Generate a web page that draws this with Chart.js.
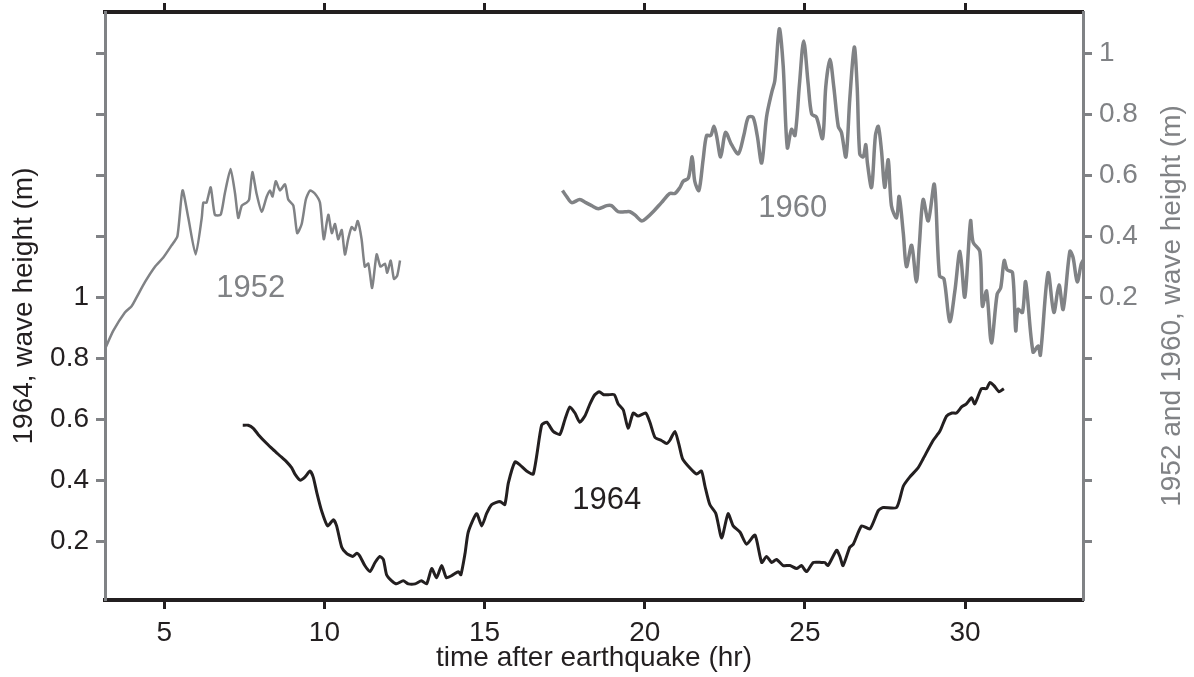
<!DOCTYPE html>
<html>
<head>
<meta charset="utf-8">
<title>tsunami wave height</title>
<script src="https://cdn.jsdelivr.net/npm/chart.js@4.4.1/dist/chart.umd.min.js"></script>
<style>
  html, body { margin: 0; padding: 0; background: #fff; }
  #wrap { width: 1194px; height: 677px; }
</style>
</head>
<body>
<div id="wrap"><canvas id="waveChart"></canvas></div>
<script>
// ===== データ =====
// 1952（右軸）
const hours1952 = [3.15, 3.41, 3.77, 3.98, 4.14, 4.40, 4.71, 4.97, 5.23, 5.41, 5.57, 5.75, 5.98, 6.17, 6.22, 6.32, 6.45, 6.58, 6.76, 6.89, 7.07, 7.21, 7.31, 7.42, 7.57, 7.65, 7.75, 7.88, 8.04, 8.20, 8.30, 8.38, 8.48, 8.61, 8.77, 8.87, 9.03, 9.15, 9.29, 9.42, 9.55, 9.70, 9.86, 9.98, 10.12, 10.23, 10.33, 10.43, 10.54, 10.64, 10.74, 10.85, 10.95, 11.04, 11.16, 11.26, 11.37, 11.49, 11.63, 11.75, 11.89, 11.96, 12.07, 12.17, 12.27, 12.36];
const height1952 = [0.03, 0.09, 0.15, 0.17, 0.20, 0.25, 0.30, 0.33, 0.37, 0.40, 0.55, 0.46, 0.34, 0.46, 0.51, 0.51, 0.56, 0.47, 0.47, 0.54, 0.62, 0.54, 0.46, 0.50, 0.51, 0.52, 0.61, 0.54, 0.48, 0.53, 0.55, 0.53, 0.58, 0.55, 0.57, 0.52, 0.50, 0.41, 0.44, 0.52, 0.55, 0.54, 0.51, 0.39, 0.47, 0.41, 0.44, 0.39, 0.42, 0.34, 0.39, 0.43, 0.42, 0.45, 0.39, 0.30, 0.31, 0.23, 0.34, 0.30, 0.31, 0.28, 0.32, 0.26, 0.27, 0.32];

// 1960（右軸）
const hours1960 = [17.43, 17.56, 17.72, 17.97, 18.16, 18.34, 18.55, 18.81, 18.96, 19.17, 19.38, 19.54, 19.69, 19.90, 20.06, 20.26, 20.52, 20.78, 20.94, 21.10, 21.20, 21.36, 21.48, 21.56, 21.69, 21.82, 21.93, 22.06, 22.16, 22.24, 22.37, 22.52, 22.71, 22.92, 23.09, 23.23, 23.38, 23.51, 23.65, 23.80, 23.96, 24.06, 24.20, 24.32, 24.45, 24.58, 24.69, 24.83, 24.96, 25.10, 25.21, 25.36, 25.55, 25.65, 25.78, 25.90, 26.04, 26.14, 26.28, 26.40, 26.54, 26.63, 26.71, 26.82, 26.90, 26.95, 27.08, 27.20, 27.29, 27.39, 27.49, 27.60, 27.70, 27.86, 27.94, 28.07, 28.17, 28.33, 28.48, 28.57, 28.69, 28.85, 29.04, 29.20, 29.34, 29.52, 29.68, 29.84, 29.99, 30.17, 30.25, 30.46, 30.54, 30.67, 30.82, 31.00, 31.11, 31.22, 31.31, 31.48, 31.58, 31.65, 31.79, 31.89, 32.12, 32.28, 32.35, 32.59, 32.77, 32.93, 33.06, 33.27, 33.37, 33.50, 33.63, 33.74];
const height1960 = [0.55, 0.53, 0.51, 0.52, 0.51, 0.50, 0.49, 0.50, 0.50, 0.48, 0.48, 0.48, 0.47, 0.45, 0.46, 0.48, 0.51, 0.54, 0.54, 0.56, 0.58, 0.59, 0.66, 0.58, 0.55, 0.65, 0.73, 0.73, 0.76, 0.73, 0.66, 0.74, 0.70, 0.67, 0.73, 0.79, 0.79, 0.73, 0.64, 0.79, 0.87, 0.91, 1.08, 0.96, 0.69, 0.75, 0.73, 0.90, 1.04, 0.90, 0.80, 0.79, 0.72, 0.89, 0.98, 0.89, 0.76, 0.74, 0.66, 0.85, 1.02, 0.89, 0.67, 0.66, 0.70, 0.64, 0.56, 0.73, 0.76, 0.68, 0.56, 0.65, 0.50, 0.46, 0.53, 0.41, 0.30, 0.37, 0.25, 0.37, 0.52, 0.45, 0.57, 0.27, 0.26, 0.12, 0.22, 0.35, 0.20, 0.45, 0.38, 0.35, 0.17, 0.22, 0.05, 0.21, 0.23, 0.32, 0.29, 0.28, 0.09, 0.16, 0.15, 0.25, 0.02, 0.04, 0.01, 0.28, 0.15, 0.24, 0.16, 0.35, 0.33, 0.25, 0.31, 0.33];

// 1964（左軸）
const hours1964 = [7.45, 7.62, 7.78, 7.93, 8.20, 8.40, 8.61, 8.82, 8.98, 9.08, 9.24, 9.39, 9.55, 9.65, 9.76, 9.91, 10.10, 10.28, 10.38, 10.54, 10.69, 10.88, 11.01, 11.11, 11.26, 11.42, 11.58, 11.73, 11.84, 11.94, 12.10, 12.25, 12.46, 12.62, 12.83, 13.03, 13.19, 13.35, 13.50, 13.66, 13.81, 14.02, 14.18, 14.26, 14.39, 14.49, 14.75, 14.91, 15.06, 15.22, 15.48, 15.63, 15.74, 15.95, 16.10, 16.31, 16.52, 16.78, 16.94, 17.14, 17.35, 17.51, 17.66, 17.82, 17.97, 18.13, 18.29, 18.44, 18.58, 18.72, 18.86, 19.05, 19.17, 19.33, 19.48, 19.64, 19.79, 20.03, 20.16, 20.32, 20.52, 20.68, 20.78, 20.94, 21.06, 21.18, 21.41, 21.62, 21.77, 21.88, 22.03, 22.22, 22.40, 22.60, 22.76, 22.97, 23.18, 23.44, 23.65, 23.80, 23.96, 24.11, 24.32, 24.53, 24.74, 24.89, 25.05, 25.26, 25.52, 25.62, 25.72, 25.99, 26.09, 26.19, 26.40, 26.51, 26.77, 27.03, 27.29, 27.44, 27.86, 28.07, 28.27, 28.53, 28.69, 29.00, 29.21, 29.42, 29.59, 29.73, 29.89, 30.04, 30.20, 30.30, 30.51, 30.67, 30.77, 30.90, 31.06, 31.21];
const height1964 = [0.58, 0.58, 0.57, 0.55, 0.52, 0.50, 0.48, 0.46, 0.44, 0.42, 0.40, 0.41, 0.43, 0.41, 0.36, 0.30, 0.25, 0.27, 0.25, 0.18, 0.16, 0.15, 0.16, 0.15, 0.12, 0.10, 0.13, 0.15, 0.14, 0.09, 0.07, 0.06, 0.07, 0.06, 0.06, 0.07, 0.06, 0.11, 0.08, 0.12, 0.08, 0.09, 0.10, 0.09, 0.16, 0.23, 0.29, 0.25, 0.29, 0.32, 0.33, 0.32, 0.39, 0.46, 0.45, 0.43, 0.42, 0.58, 0.59, 0.56, 0.55, 0.60, 0.64, 0.62, 0.59, 0.61, 0.65, 0.68, 0.69, 0.68, 0.68, 0.68, 0.65, 0.63, 0.57, 0.62, 0.61, 0.62, 0.59, 0.54, 0.53, 0.52, 0.53, 0.56, 0.52, 0.47, 0.44, 0.42, 0.43, 0.38, 0.32, 0.29, 0.21, 0.29, 0.25, 0.23, 0.19, 0.22, 0.13, 0.15, 0.13, 0.14, 0.12, 0.12, 0.11, 0.12, 0.10, 0.13, 0.13, 0.13, 0.12, 0.17, 0.15, 0.12, 0.18, 0.19, 0.25, 0.24, 0.30, 0.31, 0.31, 0.38, 0.41, 0.44, 0.47, 0.53, 0.56, 0.61, 0.62, 0.62, 0.64, 0.65, 0.67, 0.65, 0.70, 0.70, 0.72, 0.71, 0.69, 0.70];

// 目盛り
const xTickValues = [5, 10, 15, 20, 25, 30];
const leftTickValues = [0.2, 0.4, 0.6, 0.8, 1.0, 1.2, 1.4, 1.6, 1.8];
const leftTickLabels = ['0.2', '0.4', '0.6', '0.8', '1', '', '', '', ''];
const rightTickValues = [-0.6, -0.4, -0.2, 0, 0.2, 0.4, 0.6, 0.8, 1.0];
const rightTickLabels = ['', '', '', '', '0.2', '0.4', '0.6', '0.8', '1'];

// 系列ラベル（データ座標）
const tagTexts = ['1952', '1960', '1964'];
const tagHours = [7.70, 24.62, 18.81];
const tagHeights = [0.23, 0.49, 0.335];
const tagAxes = ['yRight', 'yRight', 'y'];

// ===== 見た目 =====
const BLACK = '#231f20';
const GRAY = '#808285';
const FONT = '"Liberation Sans", Arial, Helvetica, sans-serif';
const tickFont = { family: FONT, size: 28 };

function toPoints(xs, ys) {
    let pts = [];
    for (let i = 0; i < xs.length; i++) {
        pts.push({ x: xs[i], y: ys[i] });
    }
    return pts;
}

// 軸の大きさを固定（端のラベル用の余白は使わない）
function fixSize(w, h) {
    return function(s) {
        if (w !== null) s.width = w;
        if (h !== null) s.height = h;
        s.paddingTop = 0;
        s.paddingBottom = 0;
        s.paddingLeft = 0;
        s.paddingRight = 0;
    };
}

// 軸タイトルと系列ラベルを描く
const textPlugin = {
    id: 'textPlugin',
    afterDraw(chart) {
        const ctx = chart.ctx;
        const area = chart.chartArea;
        const midY = (area.top + area.bottom) / 2;
        ctx.save();
        ctx.font = '28px ' + FONT;
        ctx.textAlign = 'center';

        // 下の軸タイトル
        ctx.fillStyle = BLACK;
        ctx.textBaseline = 'alphabetic';
        ctx.fillText('time after earthquake (hr)', (area.left + area.right) / 2, 666);

        // 左の軸タイトル
        ctx.textBaseline = 'middle';
        ctx.save();
        ctx.translate(24, midY);
        ctx.rotate(-Math.PI / 2);
        ctx.fillText('1964, wave height (m)', 0, 0);
        ctx.restore();

        // 右の軸タイトル（下から上へ）
        ctx.fillStyle = GRAY;
        ctx.save();
        ctx.translate(1172, midY);
        ctx.rotate(-Math.PI / 2);
        ctx.fillText('1952 and 1960, wave height (m)', 0, 0);
        ctx.restore();

        // 系列ラベル
        ctx.font = '31px ' + FONT;
        for (let i = 0; i < tagTexts.length; i++) {
            const px = chart.scales.x.getPixelForValue(tagHours[i]);
            const py = chart.scales[tagAxes[i]].getPixelForValue(tagHeights[i]);
            ctx.fillStyle = tagAxes[i] === 'y' ? BLACK : GRAY;
            ctx.fillText(tagTexts[i], px, py);
        }
        ctx.restore();
    }
};

const xRange = { min: 3.15, max: 33.68 };

new Chart(document.getElementById('waveChart'), {
    type: 'line',
    data: {
        datasets: [
            {
                label: '1952',
                data: toPoints(hours1952, height1952),
                yAxisID: 'yRight',
                borderColor: GRAY,
                borderWidth: 2.5,
                tension: 0.2
            },
            {
                label: '1960',
                data: toPoints(hours1960, height1960),
                yAxisID: 'yRight',
                borderColor: GRAY,
                borderWidth: 3.5,
                tension: 0.3
            },
            {
                label: '1964',
                data: toPoints(hours1964, height1964),
                yAxisID: 'y',
                borderColor: BLACK,
                borderWidth: 3,
                tension: 0.2
            }
        ]
    },
    options: {
        responsive: true,
        maintainAspectRatio: false,
        animation: false,
        layout: { padding: 0 },
        elements: { point: { radius: 0 } },
        plugins: {
            legend: { display: false },
            tooltip: { enabled: false }
        },
        scales: {
            x: {
                type: 'linear',
                position: 'bottom',
                min: xRange.min,
                max: xRange.max,
                afterBuildTicks: s => { s.ticks = xTickValues.map(v => ({ value: v })); },
                afterFit: fixSize(null, 77),
                grid: { drawOnChartArea: false, tickLength: 9, tickWidth: 3, tickColor: BLACK },
                border: { display: true, color: BLACK, width: 4 },
                ticks: { color: BLACK, font: tickFont, padding: 7, maxRotation: 0, autoSkip: false, callback: v => String(v) }
            },
            xTop: {
                type: 'linear',
                position: 'top',
                min: xRange.min,
                max: xRange.max,
                afterBuildTicks: s => { s.ticks = xTickValues.map(v => ({ value: v })); },
                afterFit: fixSize(null, 12),
                grid: { drawOnChartArea: false, tickLength: 9, tickWidth: 3, tickColor: BLACK },
                border: { display: true, color: BLACK, width: 4 },
                ticks: { display: false }
            },
            y: {
                type: 'linear',
                position: 'left',
                min: 0.007,
                max: 1.935,
                afterBuildTicks: s => { s.ticks = leftTickValues.map(v => ({ value: v })); },
                afterFit: fixSize(105, null),
                grid: { drawOnChartArea: false, tickLength: 9, tickWidth: 3, tickColor: GRAY },
                border: { display: true, color: GRAY, width: 3 },
                ticks: { color: BLACK, font: tickFont, padding: 7, autoSkip: false, callback: (v, i) => leftTickLabels[i] }
            },
            yRight: {
                type: 'linear',
                position: 'right',
                min: -0.793,
                max: 1.135,
                afterBuildTicks: s => { s.ticks = rightTickValues.map(v => ({ value: v })); },
                afterFit: fixSize(111, null),
                grid: { drawOnChartArea: false, tickLength: 9, tickWidth: 3, tickColor: GRAY },
                border: { display: true, color: GRAY, width: 3 },
                ticks: { color: GRAY, font: tickFont, padding: 7, autoSkip: false, callback: (v, i) => rightTickLabels[i] }
            }
        }
    },
    plugins: [textPlugin]
});
</script>
</body>
</html>
